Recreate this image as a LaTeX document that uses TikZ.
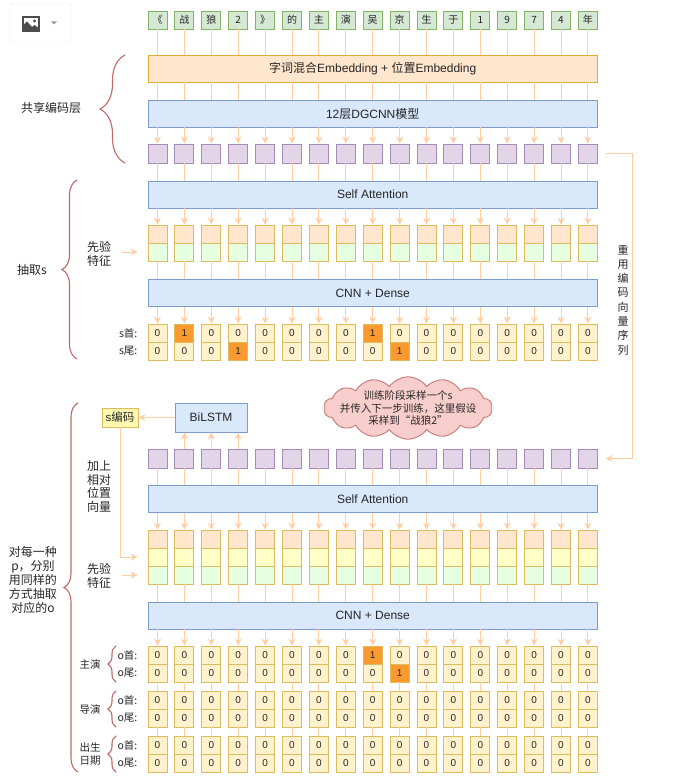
\documentclass[tikz,border=0pt]{standalone}
\usepackage{fontspec}
\setmainfont{Liberation Sans}
\newfontfamily\cjk{Noto Sans CJK SC}
\usepackage{tikz}
\usetikzlibrary{positioning,arrows.meta,decorations.pathreplacing,shapes.symbols,calc}
\definecolor{tokfill}{HTML}{D5E8D4}
\definecolor{tokline}{HTML}{82B366}
\definecolor{embfill}{HTML}{FFE6CC}
\definecolor{embline}{HTML}{E0AC3A}
\definecolor{barfill}{HTML}{DAE8FC}
\definecolor{barline}{HTML}{7E9CCB}
\definecolor{vecfill}{HTML}{E1D5E7}
\definecolor{vecline}{HTML}{A68BB8}
\definecolor{cellfill}{HTML}{FFF2CC}
\definecolor{cellline}{HTML}{DDBB5E}
\definecolor{hitfill}{HTML}{FA9A2E}
\definecolor{yelfill}{HTML}{FFFFC8}
\definecolor{grnfill}{HTML}{E6FFE0}
\definecolor{codefill}{HTML}{FFF8B0}
\definecolor{wirecolor}{HTML}{FFCFA3}
\definecolor{bracecolor}{HTML}{C06A66}
\definecolor{cloudfill}{HTML}{F8CECC}
\definecolor{cloudline}{HTML}{C47773}
\definecolor{inkcolor}{HTML}{262626}
\tikzset{
    box/.style={rectangle, draw, line width=0.9pt, inner sep=0pt, text=inkcolor},
    token/.style={box, fill=tokfill, draw=tokline, minimum width=19pt, minimum height=18pt, font=\cjk\fontsize{10}{12}\selectfont},
    bar/.style={box, fill=barfill, draw=barline, minimum width=449.4pt, minimum height=27pt, font=\fontsize{12}{14}\selectfont},
    vec/.style={box, fill=vecfill, draw=vecline, minimum size=19pt},
    half/.style={box, draw=cellline, minimum width=19pt, minimum height=18pt},
    bit0/.style={half, fill=cellfill, font=\fontsize{10}{12}\selectfont},
    bit1/.style={bit0, fill=hitfill},
    wire/.style={wirecolor, line width=0.9pt},
    flow/.style={wire, -{Stealth[length=7pt,width=7pt]}},
    sidetext/.style={text=inkcolor, align=center, inner sep=1pt, font=\cjk\fontsize{12}{13.8}\selectfont},
    rowtext/.style={sidetext, font=\cjk\fontsize{10.5}{13}\selectfont},
    curly/.style={decorate, decoration={brace, amplitude=#1}, draw=bracecolor, line width=1.1pt, line cap=round}
}
\begin{document}
\begin{tikzpicture}[x=1pt, y=-1pt]
\useasboundingbox (0,0) rectangle (682,781);

\draw[draw=black!9, fill=white, rounded corners=3pt] (10,4) rectangle (71,42);
\draw[draw=black!70, line width=1.2pt, fill=white] (23,17) rectangle (39,31);
\fill[black!70] (23.5,30.5) -- (23.5,25) -- (27,21.5) -- (32,27) -- (34.5,25) -- (38.5,28) -- (38.5,30.5) -- cycle;
\fill[black!70] (34.5,21) circle (1.6);
\fill[black!40] (51,21.5) -- (57,21.5) -- (54,24.5) -- cycle;

\foreach \c [count=\n from 0] in {《,战,狼,2,》,的,主,演,吴,京,生,于,1,9,7,4,年}
    \node[token] (tok\n) at ({157.5+26.9*\n},20) {\c};

\node[bar, fill=embfill, draw=embline] (emb) at (372.7,68.5) {{\cjk 字词混合}Embedding + {\cjk 位置}Embedding};
\node[bar] (dgcnn) at (372.7,113.5) {12{\cjk 层}DGCNN{\cjk 模型}};
\node[bar] (attA) at (372.7,194.5) {Self Attention};
\node[bar] (cnnA) at (372.7,293) {CNN + Dense};
\node[bar] (attB) at (372.7,499) {Self Attention};
\node[bar] (cnnB) at (372.7,615.5) {CNN + Dense};

\foreach \n in {0,...,16}{
    \pgfmathsetmacro\x{157.5+26.9*\n}
    \pgfmathtruncatemacro\sh{(\n==1)||(\n==8)}
    \pgfmathtruncatemacro\st{(\n==3)||(\n==9)}
    \node[vec] (vecA\n) at (\x,153.5) {};
    \node[half, fill=embfill] (priA\n) at (\x,234) {};
    \node[half, fill=grnfill] (feaA\n) at (\x,252) {};
    \node[bit\sh] (sHead\n) at (\x,333) {\sh};
    \node[bit\st] (sTail\n) at (\x,351) {\st};
    \node[vec] (vecB\n) at (\x,458.5) {};
    \node[half, fill=embfill] (priB\n) at (\x,539) {};
    \node[half, fill=yelfill] (subB\n) at (\x,557) {};
    \node[half, fill=grnfill] (feaB\n) at (\x,575) {};
    \foreach \g/\y in {1/655,2/700,3/745}{
        \pgfmathtruncatemacro\oh{(\g==1)&&(\n==8)}
        \pgfmathtruncatemacro\ot{(\g==1)&&(\n==9)}
        \node[bit\oh] (oHead\g-\n) at (\x,\y) {\oh};
        \node[bit\ot] (oTail\g-\n) at (\x,\y+18) {\ot};
    }
    \draw[wire] (tok\n.south) -- (tok\n.south |- emb.north);
    \draw[wire] (tok\n.south |- emb.south) -- (tok\n.south |- dgcnn.north);
    \draw[flow] (tok\n.south |- dgcnn.south) -- (vecA\n.north);
    \draw[wire] (vecA\n.south) -- (vecA\n.south |- attA.north);
    \draw[flow] (vecA\n.south |- attA.south) -- (priA\n.north);
    \draw[wire] (feaA\n.south) -- (feaA\n.south |- cnnA.north);
    \draw[flow] (feaA\n.south |- cnnA.south) -- (sHead\n.north);
    \draw[wire] (vecB\n.south) -- (vecB\n.south |- attB.north);
    \draw[flow] (vecB\n.south |- attB.south) -- (priB\n.north);
    \draw[wire] (feaB\n.south) -- (feaB\n.south |- cnnB.north);
    \draw[flow] (feaB\n.south |- cnnB.south) -- (oHead1-\n.north);
    \draw[wire] (oTail1-\n.south) -- (oHead2-\n.north);
    \draw[wire] (oTail2-\n.south) -- (oHead3-\n.north);
}

\node[bar, minimum width=72pt, minimum height=29pt] (bilstm) at (211,417.5) {BiLSTM};
\node[box, fill=codefill, draw=cellline, minimum width=36pt, minimum height=19pt, font=\fontsize{11.5}{13}\selectfont, left=36pt of bilstm] (scode) {s{\cjk 编码}};
\draw[flow] (bilstm) -- (scode);
\foreach \n in {1,2,3}
    \draw[flow] (vecB\n.north) -- (vecB\n.north |- bilstm.south);
\draw[flow] (scode.south) |- ([xshift=-10pt]subB0.west);
\draw[flow] ([xshift=8pt]vecA16.east) -- ++(27,0) |- ([xshift=8pt]vecB16.east);

\node[sidetext] (shared) at (51,108) {共享编码层};
\draw[curly=25pt] (125,163) -- (125,55);
\node[sidetext] (extract) at (32,270) {抽取s};
\draw[curly=15pt] (77,359) -- (77,180);
\node[sidetext] (priorA) at (99,254) {先验\\特征};
\draw[flow] ($(feaA0.west)+(-26,0)$) -- ([xshift=-10pt]feaA0.west);
\node[rowtext, left=9pt of sHead0] (sHeadText) {s首:};
\node[rowtext, left=9pt of sTail0] (sTailText) {s尾:};
\node[sidetext, font=\cjk\fontsize{11}{14.3}\selectfont] (reuse) at (623,300) {重\\用\\编\\码\\向\\量\\序\\列};

\node[cloud, cloud puffs=14, cloud puff arc=110, aspect=3.8, fill=cloudfill, draw=cloudline, line width=0.9pt, inner sep=-9pt, text=inkcolor, align=center, font=\cjk\fontsize{10.5}{12.5}\selectfont] (hint) at (408,408) {训练阶段采样一个s\\并传入下一步训练，这里假设\\采样到“战狼2”};

\node[sidetext] (relpos) at (99,486.5) {加上\\相对\\位置\\向量};
\node[sidetext] (priorB) at (99,576) {先验\\特征};
\draw[flow] ($(feaB0.west)+(-26,0)$) -- ([xshift=-10pt]feaB0.west);
\node[sidetext] (perP) at (33,580) {对每一种\\p，分别\\用同样的\\方式抽取\\对应的o};
\draw[curly=14pt] (78,772) -- (78,403);

\foreach \g/\y/\name in {1/664/主演,2/709/导演,3/754/出生\\日期}{
    \node[rowtext] (role\g) at (90,\y) {\name};
    \draw[curly=8pt] (116,\y+18) -- (116,\y-18);
    \node[rowtext, left=9pt of oHead\g-0] (oHeadText\g) {o首:};
    \node[rowtext, left=9pt of oTail\g-0] (oTailText\g) {o尾:};
}
\end{tikzpicture}
\end{document}
